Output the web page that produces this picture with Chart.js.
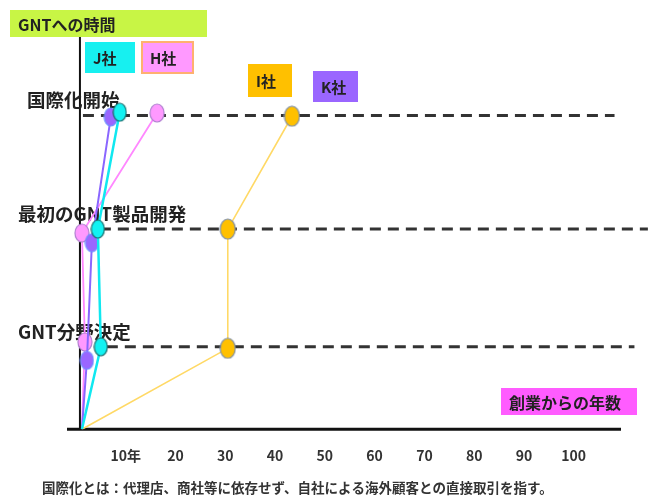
<!DOCTYPE html>
<html lang="ja">
<head>
<meta charset="utf-8">
<script src="https://cdn.jsdelivr.net/npm/chart.js@4.4.1/dist/chart.umd.min.js"></script>
<style>
html, body { margin: 0; padding: 0; background: #fff; }
#wrap { width: 656px; height: 497px; position: relative; }
</style>
</head>
<body>
<div id="wrap"><canvas id="gntChart" width="656" height="497"></canvas></div>
<script>
// x = 創業からの年数, y = 段階 (0 創業, 約1 分野決定, 約2.5 製品開発, 約3.9 国際化)
const companies = ['J社', 'H社', 'I社', 'K社'];
const stageNames = ['GNT分野決定', '最初のGNT製品開発', '国際化開始'];
const stageLevels = [1.03, 2.5, 3.92];
const stageLineFrom = [6.2, 4.8, 1.4];
const stageLineTo = [112.2, 114.9, 108.2];
const xTicks = [10, 20, 30, 40, 50, 60, 70, 80, 90, 100];

const yearsJ = [1.2, 5.0, 4.4, 8.8];
const levelsJ = [0, 1.03, 2.5, 3.96];
const yearsH = [1.2, 1.8, 1.2, 16.3];
const levelsH = [0, 1.09, 2.45, 3.95];
const yearsI = [1.2, 30.5, 30.5, 43.4];
const levelsI = [0, 1.01, 2.5, 3.91];
const yearsK = [1.2, 2.2, 3.2, 7.0];
const levelsK = [0, 0.86, 2.33, 3.9];

const FONT = '"Noto Sans CJK JP", "Noto Sans", sans-serif';

function ellipse(fill, stroke, w, h) {
    const c = document.createElement('canvas');
    c.width = w + 2;
    c.height = h + 2;
    const g = c.getContext('2d');
    g.beginPath();
    g.ellipse(c.width / 2, c.height / 2, w / 2, h / 2, 0, 0, Math.PI * 2);
    g.fillStyle = fill;
    g.fill();
    g.lineWidth = 1.2;
    g.strokeStyle = stroke;
    g.stroke();
    return c;
}

function pts(xs, ys) {
    return xs.map((x, i) => ({ x: x, y: ys[i] }));
}

function company(label, xs, ys, line, width, marker) {
    return {
        label: label,
        data: pts(xs, ys),
        showLine: true,
        borderColor: line,
        borderWidth: width,
        pointStyle: marker,
        pointRadius: [0, 7, 7, 7],
        order: 1
    };
}

const stageSets = stageLevels.map((lv, i) => ({
    label: stageNames[i],
    data: [{ x: stageLineFrom[i], y: lv }, { x: stageLineTo[i], y: lv }],
    showLine: true,
    borderColor: '#333',
    borderWidth: 3,
    borderDash: [11, 7],
    pointRadius: 0,
    clip: false,
    order: 3
}));

const decorations = {
    id: 'decorations',
    beforeDatasetsDraw(chart) {
        const { ctx, chartArea, scales } = chart;
        const x = scales.x, y = scales.y;
        ctx.save();
        // axes
        ctx.strokeStyle = '#111';
        ctx.lineWidth = 3;
        ctx.beginPath();
        ctx.moveTo(chartArea.left, y.getPixelForValue(0));
        ctx.lineTo(chartArea.right, y.getPixelForValue(0));
        ctx.stroke();
        ctx.lineWidth = 2;
        ctx.beginPath();
        ctx.moveTo(x.getPixelForValue(0.8), chartArea.top);
        ctx.lineTo(x.getPixelForValue(0.8), y.getPixelForValue(0));
        ctx.stroke();

        // stage labels
        ctx.fillStyle = '#222';
        ctx.font = 'bold 18.5px ' + FONT;
        ctx.textBaseline = 'middle';
        const lx = [18, 18, 27];
        stageNames.forEach((name, i) => {
            ctx.fillText(name, lx[i], y.getPixelForValue(stageLevels[i]) - 15);
        });
        ctx.restore();
    },
    afterDraw(chart) {
        const { ctx } = chart;
        ctx.save();
        ctx.textBaseline = 'middle';

        function box(x0, y0, w, h, fill, text, size, border) {
            ctx.fillStyle = fill;
            ctx.fillRect(x0, y0, w, h);
            if (border) {
                ctx.strokeStyle = border;
                ctx.lineWidth = 2;
                ctx.strokeRect(x0, y0, w, h);
            }
            ctx.fillStyle = '#222';
            ctx.font = 'bold ' + size + 'px ' + FONT;
            ctx.fillText(text, x0 + 8, y0 + h / 2 + 1);
        }

        box(10, 10, 197, 27, '#c8f545', 'GNTへの時間', 16);
        box(85, 42, 50, 31, '#17f0f0', companies[0], 15);
        box(142, 42, 51, 31, '#ff99ff', companies[1], 15, '#ffb070');
        box(248, 64, 44, 33, '#ffc000', companies[2], 15);
        box(313, 71, 45, 31, '#9a66ff', companies[3], 15);
        box(501, 388, 136, 27, '#ff5cff', '創業からの年数', 16);

        ctx.fillStyle = '#333';
        ctx.font = 'bold 13.5px ' + FONT;
        ctx.fillText('国際化とは：代理店、商社等に依存せず、自社による海外顧客との直接取引を指す。', 42, 488);
        ctx.restore();
    }
};

new Chart(document.getElementById('gntChart'), {
    type: 'scatter',
    data: {
        datasets: [
            company(companies[0], yearsJ, levelsJ, '#10e8f0', 2.5, ellipse('#12f2f2', '#1b6f6f', 13, 18)),
            company(companies[3], yearsK, levelsK, '#8a66ff', 2, ellipse('#9a66ff', '#6f8fff', 13, 18)),
            company(companies[1], yearsH, levelsH, '#ff88ff', 1.8, ellipse('#ff99ff', '#b080d0', 14, 18)),
            company(companies[2], yearsI, levelsI, '#ffd966', 1.6, ellipse('#ffc000', '#7f8fa6', 15, 20))
        ].concat(stageSets)
    },
    plugins: [decorations],
    options: {
        responsive: false,
        animation: false,
        layout: { padding: { left: 67, right: 35, top: 37, bottom: 23 } },
        plugins: { legend: { display: false }, tooltip: { enabled: false } },
        elements: { line: { tension: 0 } },
        scales: {
            x: {
                type: 'linear',
                min: -1.8,
                max: 109.5,
                grid: { display: false },
                border: { display: false },
                afterBuildTicks: s => { s.ticks = xTicks.map(v => ({ value: v })); },
                ticks: {
                    autoSkip: false,
                    maxRotation: 0,
                    padding: 10,
                    color: '#333',
                    font: { family: FONT, size: 14, weight: 'bold' },
                    callback: v => v === 10 ? '10年' : String(v)
                }
            },
            y: {
                type: 'linear',
                display: false,
                min: 0,
                max: 4.9
            }
        }
    }
});
</script>
</body>
</html>
